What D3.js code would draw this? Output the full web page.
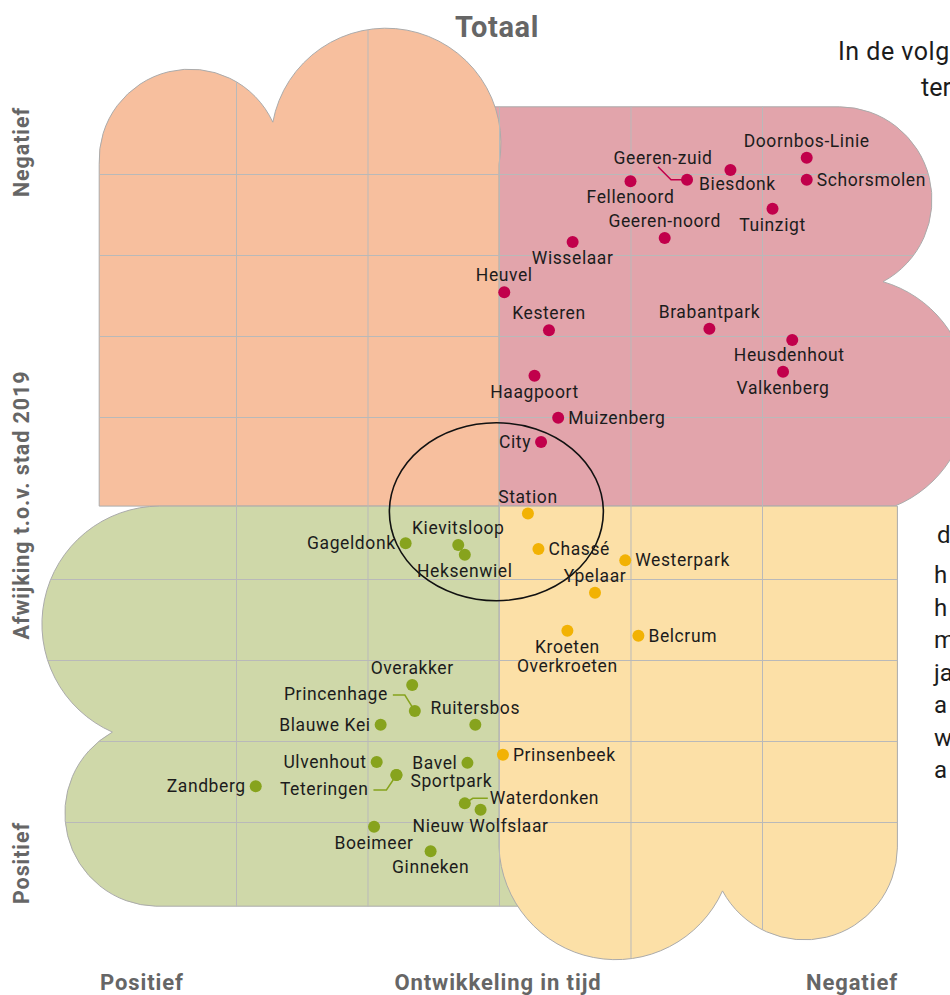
<!DOCTYPE html>
<html><head><meta charset="utf-8">
<script src="https://cdn.jsdelivr.net/npm/d3@7/dist/d3.min.js"></script>
<style>body{margin:0;background:#fff}svg{display:block}</style>
</head><body>
<svg id="chart" width="950" height="995"></svg>
<script>
// ---------- DATA ----------
const xTicks = [-2, -1, 0, 1, 2];
const yTicks = [4, 3, 2, 1, -1, -2, -3, -4];
const title = "Totaal";
const xAxisLabels = ["Positief", "Ontwikkeling in tijd", "Negatief"];
const yAxisLabels = ["Negatief", "Afwijking t.o.v. stad 2019", "Positief"];

// negative deviation + negative development (red)
const redAreas = [
  {name: "Doornbos-Linie", x: 2.34, y: 4.20},
  {name: "Schorsmolen", x: 2.34, y: 3.93},
  {name: "Biesdonk", x: 1.76, y: 4.05},
  {name: "Geeren-zuid", x: 1.43, y: 3.93},
  {name: "Fellenoord", x: 1.00, y: 3.91},
  {name: "Tuinzigt", x: 2.08, y: 3.57},
  {name: "Geeren-noord", x: 1.26, y: 3.21},
  {name: "Wisselaar", x: 0.56, y: 3.16},
  {name: "Heuvel", x: 0.04, y: 2.54},
  {name: "Kesteren", x: 0.38, y: 2.07},
  {name: "Brabantpark", x: 1.60, y: 2.09},
  {name: "Heusdenhout", x: 2.23, y: 1.95},
  {name: "Valkenberg", x: 2.16, y: 1.56},
  {name: "Haagpoort", x: 0.27, y: 1.51},
  {name: "Muizenberg", x: 0.45, y: 0.99},
  {name: "City", x: 0.32, y: 0.69}
];
// positive deviation + negative development (yellow)
const yellowAreas = [
  {name: "Station", x: 0.22, y: -0.19},
  {name: "Chassé", x: 0.30, y: -0.63},
  {name: "Westerpark", x: 0.96, y: -0.77},
  {name: "Ypelaar", x: 0.73, y: -1.17},
  {name: "Kroeten\nOverkroeten", x: 0.52, y: -1.64},
  {name: "Belcrum", x: 1.06, y: -1.70},
  {name: "Prinsenbeek", x: 0.03, y: -3.17}
];
// positive deviation + positive development (green)
const greenAreas = [
  {name: "Gageldonk", x: -0.71, y: -0.56},
  {name: "Kievitsloop", x: -0.31, y: -0.58},
  {name: "Heksenwiel", x: -0.26, y: -0.70},
  {name: "Overakker", x: -0.66, y: -2.31},
  {name: "Princenhage", x: -0.64, y: -2.63},
  {name: "Ruitersbos", x: -0.18, y: -2.80},
  {name: "Blauwe Kei", x: -0.90, y: -2.80},
  {name: "Ulvenhout", x: -0.93, y: -3.26},
  {name: "Bavel", x: -0.24, y: -3.27},
  {name: "Teteringen", x: -0.78, y: -3.42},
  {name: "Sportpark", x: -0.78, y: -3.42},
  {name: "Waterdonken", x: -0.26, y: -3.77},
  {name: "Nieuw Wolfslaar", x: -0.14, y: -3.85},
  {name: "Zandberg", x: -1.85, y: -3.56},
  {name: "Boeimeer", x: -0.95, y: -4.06},
  {name: "Ginneken", x: -0.52, y: -4.36}
];

// ---------- LAYOUT ----------
const W = 950, H = 995;
const svg = d3.select("#chart");
const x = d3.scaleLinear().domain([-2, 2]).range([236, 762]);
const y = d3.scaleLinear().domain([-4, 4]).range([822, 174]);

const colors = {
  orange: "#F7BF9E", pink: "#E2A4AB", green: "#CFD8A9", yellow: "#FCE0A7",
  red: "#C1004B", yel: "#F2B204", grn: "#87A31D", edge: "#ABABAB", grid: "#B9B9B9"
};
const labelFont = "Roboto, 'DejaVu Sans', sans-serif";
const headFont = "Roboto, 'DejaVu Sans', sans-serif";

// blob shapes (anchor points in data units, arc radii in px)
function P(a, b) { return x(a).toFixed(1) + "," + y(b).toFixed(1); }
const shapes = [
  {fill: colors.pink, d: `M${P(-0.14,-0.1)} L${P(-0.14,4.83)} L${P(2.59,4.83)} A93,93 0 0 1 ${P(2.92,2.67)} A119,119 0 0 1 ${P(3.01,-0.1)} Z`},
  {fill: colors.orange, d: `M${P(-3.04,-0.1)} L${P(-3.04,4.12)} A91,91 0 0 1 ${P(-1.72,4.64)} A115,115 0 0 1 ${P(0,4.12)} L${P(0,-0.1)} Z`},
  {fill: colors.green, d: `M${P(0.16,-0.1)} L${P(-2.58,-0.1)} A118,118 0 0 0 ${P(-2.94,-2.89)} A93,93 0 0 0 ${P(-2.61,-5.04)} L${P(0.16,-5.04)} Z`},
  {fill: colors.yellow, d: `M${P(0,-0.1)} L${P(3.03,-0.1)} L${P(3.03,-4.32)} A93,93 0 0 1 ${P(1.70,-4.85)} A117,117 0 0 1 ${P(0,-4.31)} Z`}
];

const defs = svg.append("defs");
const clip = defs.append("clipPath").attr("id", "blobs");
shapes.forEach(s => clip.append("path").attr("d", s.d));

const gShapes = svg.append("g");
shapes.forEach(s => gShapes.append("path").attr("d", s.d)
  .attr("fill", s.fill).attr("stroke", colors.edge).attr("stroke-width", 1));

// grid via axes, clipped to the blobs
const gGrid = svg.append("g").attr("clip-path", "url(#blobs)");
gGrid.append("g")
  .call(d3.axisBottom(x).tickValues(xTicks).tickSize(H).tickFormat(""))
  .call(g => g.select(".domain").remove())
  .call(g => g.selectAll("line").attr("stroke", colors.grid).attr("stroke-width", 1));
gGrid.append("g")
  .call(d3.axisRight(y).tickValues(yTicks).tickSize(W).tickFormat(""))
  .call(g => g.select(".domain").remove())
  .call(g => g.selectAll("line").attr("stroke", colors.grid).attr("stroke-width", 1));

// highlight ellipse
svg.append("ellipse").attr("cx", x(-0.02)).attr("cy", y(-0.17))
  .attr("rx", 107).attr("ry", 89).attr("fill", "none")
  .attr("stroke", "#111").attr("stroke-width", 1.6);

// label placement: [mode, dx, dy]
const place = {
  "Doornbos-Linie": ["t"], "Schorsmolen": ["r"], "Biesdonk": ["c", 7, 14],
  "Geeren-zuid": ["c", -24, -22], "Fellenoord": ["b"], "Tuinzigt": ["b"],
  "Geeren-noord": ["t"], "Wisselaar": ["b", 1, 14], "Heuvel": ["t"], "Kesteren": ["t"],
  "Brabantpark": ["t"], "Heusdenhout": ["c", -3, 15], "Valkenberg": ["b"],
  "Haagpoort": ["b"], "Muizenberg": ["r"], "City": ["l"],
  "Station": ["t"], "Chassé": ["r"], "Westerpark": ["r"], "Ypelaar": ["t"],
  "Kroeten\nOverkroeten": ["b"], "Belcrum": ["r"], "Prinsenbeek": ["r"],
  "Gageldonk": ["l"], "Kievitsloop": ["t"], "Heksenwiel": ["b"], "Overakker": ["t"],
  "Princenhage": ["e", -27, -17], "Ruitersbos": ["t"], "Blauwe Kei": ["l"],
  "Ulvenhout": ["l"], "Bavel": ["l"], "Teteringen": ["e", -28, 14],
  "Sportpark": ["s", 14, 6], "Waterdonken": ["s", 25, -5],
  "Nieuw Wolfslaar": ["b"], "Zandberg": ["l"], "Boeimeer": ["b"], "Ginneken": ["b"]
};
const connectors = {
  "Geeren-zuid": [[0,0],[-16,0],[-29,-13]],
  "Princenhage": [[0,0],[-10,-16],[-22,-16]],
  "Teteringen": [[0,0],[-10,15],[-23,15]],
  "Waterdonken": [[0,0],[8,-5],[23,-5]]
};

function drawGroup(data, color) {
  const g = svg.append("g");
  data.forEach(d => {
    const cx = x(d.x), cy = y(d.y);
    if (connectors[d.name]) {
      g.append("path").attr("d", d3.line()(connectors[d.name].map(p => [cx + p[0], cy + p[1]])))
        .attr("fill", "none").attr("stroke", color).attr("stroke-width", 1.5);
    }
  });
  g.selectAll("circle").data(data).join("circle")
    .attr("cx", d => x(d.x)).attr("cy", d => y(d.y)).attr("r", 6).attr("fill", color);
  data.forEach(d => {
    const cx = x(d.x), cy = y(d.y);
    const p = place[d.name] || ["r"];
    let tx = cx, ty = cy, anchor = "middle";
    if (p[0] === "t") { ty = cy - 17; }
    else if (p[0] === "b") { ty = cy + 16; }
    else if (p[0] === "r") { tx = cx + 10; anchor = "start"; }
    else if (p[0] === "l") { tx = cx - 10; anchor = "end"; }
    else if (p[0] === "c") { tx = cx + p[1]; ty = cy + p[2]; }
    else if (p[0] === "e") { tx = cx + p[1]; ty = cy + p[2]; anchor = "end"; }
    else if (p[0] === "s") { tx = cx + p[1]; ty = cy + p[2]; anchor = "start"; }
    const lines = d.name.split("\n");
    lines.forEach((ln, i) => {
      g.append("text").attr("x", tx).attr("y", ty + i * 19).attr("dy", "0.35em")
        .attr("text-anchor", anchor).attr("font-family", labelFont).attr("font-size", 17.5)
        .attr("letter-spacing", 0.6).attr("fill", "#1c1c1c").text(ln);
    });
  });
}
drawGroup(redAreas, colors.red);
drawGroup(yellowAreas, colors.yel);
drawGroup(greenAreas, colors.grn);

// title and axis labels
svg.append("text").attr("x", 497).attr("y", 37).attr("text-anchor", "middle")
  .attr("font-family", headFont).attr("font-weight", "bold").attr("font-size", 29)
  .attr("letter-spacing", 0.6).attr("fill", "#666").text(title);
const xl = [142, 498, 852];
xAxisLabels.forEach((t, i) => svg.append("text").attr("x", xl[i]).attr("y", 990)
  .attr("text-anchor", "middle").attr("font-family", headFont).attr("font-weight", "bold")
  .attr("font-size", 22).attr("letter-spacing", 0.9).attr("fill", "#666").text(t));
const yl = [152, 505, 863];
yAxisLabels.forEach((t, i) => svg.append("text")
  .attr("transform", `translate(29,${yl[i]}) rotate(-90)`)
  .attr("text-anchor", "middle").attr("font-family", headFont).attr("font-weight", "bold")
  .attr("font-size", 21.5).attr("letter-spacing", 0.9).attr("fill", "#666").text(t));

// cut-off side text
const sideFont = "Roboto, 'DejaVu Sans', sans-serif";
svg.append("text").attr("x", 838).attr("y", 60).attr("font-family", sideFont)
  .attr("font-size", 25).attr("letter-spacing", 0.5).attr("fill", "#1c1c1c").text("In de volg");
svg.append("text").attr("x", 921).attr("y", 96).attr("font-family", sideFont)
  .attr("font-size", 25).attr("fill", "#1c1c1c").text("ter");
const sideLines = ["d", "h", "h", "m", "ja", "a", "w", "a"];
const sideY = [543, 583, 616, 648, 681, 713, 746, 778];
sideLines.forEach((t, i) => svg.append("text").attr("x", i === 0 ? 937 : 934).attr("y", sideY[i])
  .attr("font-family", sideFont).attr("font-size", 24).attr("fill", "#1c1c1c").text(t));
</script>
</body></html>
